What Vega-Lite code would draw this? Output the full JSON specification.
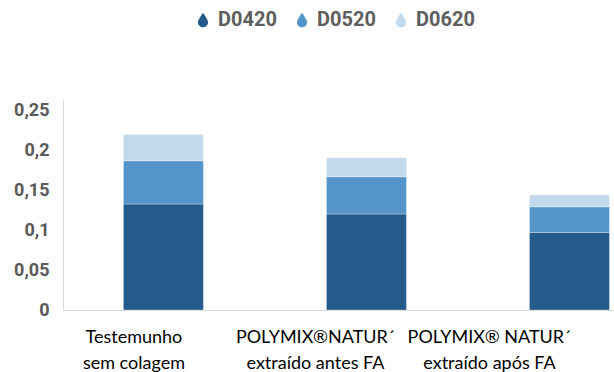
{
  "$schema": "https://vega.github.io/schema/vega-lite/v6.json",
  "width": 551,
  "height": 210,
  "autosize": {"type": "none"},
  "padding": {"left": 63, "top": 100, "right": 0, "bottom": 62},
  "background": "white",
  "config": {"view": {"stroke": null}},
  "data": {
    "values": [
      {"amostra": "Testemunho|sem colagem", "serie": "D0420", "valor": 0.1325},
      {"amostra": "Testemunho|sem colagem", "serie": "D0520", "valor": 0.054},
      {"amostra": "Testemunho|sem colagem", "serie": "D0620", "valor": 0.033},
      {"amostra": "POLYMIX®NATUR´|extraído antes FA", "serie": "D0420", "valor": 0.12},
      {"amostra": "POLYMIX®NATUR´|extraído antes FA", "serie": "D0520", "valor": 0.0466},
      {"amostra": "POLYMIX®NATUR´|extraído antes FA", "serie": "D0620", "valor": 0.0237},
      {"amostra": "POLYMIX® NATUR´|extraído após FA", "serie": "D0420", "valor": 0.097},
      {"amostra": "POLYMIX® NATUR´|extraído após FA", "serie": "D0520", "valor": 0.032},
      {"amostra": "POLYMIX® NATUR´|extraído após FA", "serie": "D0620", "valor": 0.0146}
    ]
  },
  "mark": {"type": "bar", "stroke": "white", "strokeWidth": 0.6, "strokeOpacity": 0.5},
  "encoding": {
    "x": {
      "field": "amostra",
      "type": "nominal",
      "sort": null,
      "scale": {"paddingInner": 0.606, "paddingOuter": 0.16, "align": 0.93},
      "axis": {
        "title": null,
        "labelAngle": 0,
        "ticks": false,
        "domainColor": "#d9d9d9",
        "domainWidth": 1,
        "labelExpr": "split(datum.label, '|')",
        "labelFont": "Lato",
        "labelFontSize": 18,
        "labelColor": "#000000",
        "labelLineHeight": 26,
        "labelPadding": 18,
        "labelOffset": {
          "condition": [
            {"test": "indexof(datum.value, 'antes') >= 0", "value": -51},
            {"test": "indexof(datum.value, 'após') >= 0", "value": -80}
          ],
          "value": -29.5
        }
      }
    },
    "y": {
      "field": "valor",
      "type": "quantitative",
      "stack": "zero",
      "scale": {"domain": [0, 0.2625], "nice": false},
      "axis": {
        "title": null,
        "grid": false,
        "ticks": false,
        "values": [0, 0.05, 0.1, 0.15, 0.2, 0.25],
        "labelExpr": "replace(toString(datum.value), '.', ',')",
        "domainColor": "#d9d9d9",
        "labelFont": "Roboto",
        "labelFontWeight": "bold",
        "labelFontSize": 18,
        "labelColor": "#595959",
        "labelPadding": 14
      }
    },
    "color": {
      "field": "serie",
      "type": "nominal",
      "scale": {"domain": ["D0420", "D0520", "D0620"], "range": ["#245B8B", "#5594C9", "#C2D8EC"]},
      "legend": {
        "title": null,
        "orient": "none",
        "direction": "horizontal",
        "legendX": 130,
        "legendY": -90,
        "padding": 0,
        "symbolType": "M0,-1 C0.35,-0.45 0.7,0 0.7,0.3 A0.7,0.7 0 0 1 -0.7,0.3 C-0.7,0 -0.35,-0.45 0,-1 Z",
        "symbolSize": 210,
        "symbolStrokeWidth": 0,
        "labelFont": "Roboto",
        "labelFontWeight": "bold",
        "labelFontSize": 20,
        "labelColor": "#5e5e5e",
        "labelOffset": 5,
        "columnPadding": 15
      }
    },
    "order": {"field": "serie", "sort": "ascending"}
  }
}
